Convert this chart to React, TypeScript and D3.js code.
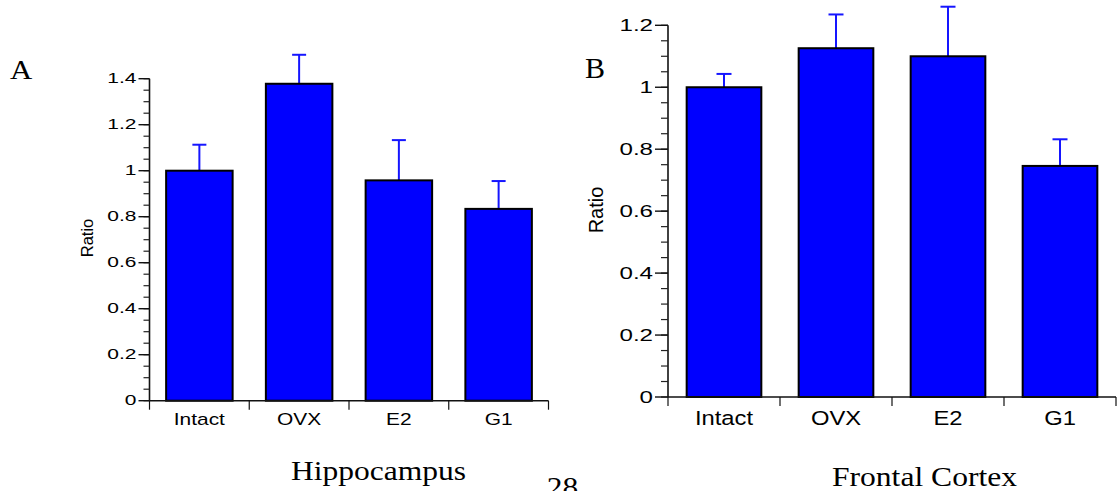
import React from "react";
import * as d3 from "d3";

const categories = ["Intact", "OVX", "E2", "G1"];
const hippoValues = [1.0, 1.378, 0.958, 0.834];
const hippoErrors = [0.113, 0.126, 0.175, 0.121];
const cortexValues = [1.0, 1.126, 1.1, 0.746];
const cortexErrors = [0.043, 0.109, 0.16, 0.086];
const hippoTicks = [0, 0.2, 0.4, 0.6, 0.8, 1, 1.2, 1.4];
const cortexTicks = [0, 0.2, 0.4, 0.6, 0.8, 1, 1.2];

type PanelProps = {
  values: number[];
  errors: number[];
  ticks: number[];
  yMax: number;
  x0: number;
  x1: number;
  y0: number;
  yTop: number;
  majorLen: number;
  minorLen: number;
  tickFont: number;
  tickSx: number;
  tickDy: number;
  labelFont: number;
  labelSx: number;
  labelY: number;
  ratioX: number;
  ratioY: number;
  ratioFont: number;
  capW: number;
};

const SANS = "'Liberation Sans', Arial, Helvetica, sans-serif";
const SERIF = "'Liberation Serif', 'Times New Roman', serif";

function Panel(p: PanelProps) {
  const y = d3.scaleLinear().domain([0, p.yMax]).range([p.y0, p.yTop]);
  const x = d3
    .scaleBand<string>()
    .domain(categories)
    .range([p.x0, p.x1])
    .paddingInner(1 / 3)
    .paddingOuter(1 / 6);
  const step = x.step();
  const minor = d3.range(0, Math.round(p.yMax / 0.05) + 1).map((i) => i * 0.05);
  const fmt = (v: number) => (v === 0 ? "0" : v === 1 ? "1" : d3.format(".1f")(v));
  return (
    <g>
      {categories.map((c, i) => {
        const bx = x(c)!;
        const top = y(p.values[i]);
        const et = y(p.values[i] + p.errors[i]);
        const cx = bx + x.bandwidth() / 2;
        return (
          <g key={c}>
            <line x1={cx} x2={cx} y1={top} y2={et} stroke="#1515ff" strokeWidth={2} />
            <line x1={cx - p.capW / 2} x2={cx + p.capW / 2} y1={et} y2={et} stroke="#1515ff" strokeWidth={2} />
            <rect
              x={bx}
              y={top}
              width={x.bandwidth()}
              height={p.y0 - top}
              fill="#0000ff"
              stroke="#000"
              strokeWidth={2}
            />
          </g>
        );
      })}
      <line x1={p.x0} x2={p.x0} y1={y(0)} y2={y(p.yMax)} stroke="#111" strokeWidth={1.6} />
      {minor.map((v, i) => (
        <line
          key={"m" + i}
          x1={p.x0 - p.minorLen}
          x2={p.x0}
          y1={y(v)}
          y2={y(v)}
          stroke="#222"
          strokeWidth={1.2}
        />
      ))}
      {p.ticks.map((v) => (
        <g key={"t" + v}>
          <line x1={p.x0 - p.majorLen} x2={p.x0} y1={y(v)} y2={y(v)} stroke="#111" strokeWidth={1.4} />
          <text
            transform={`translate(${p.x0 - p.majorLen - 2},${y(v) + p.tickDy}) scale(${p.tickSx},1)`}
            textAnchor="end"
            fontFamily={SANS}
            fontSize={p.tickFont}
            fill="#000"
          >
            {fmt(v)}
          </text>
        </g>
      ))}
      <line x1={p.x0} x2={p.x1} y1={p.y0} y2={p.y0} stroke="#111" strokeWidth={1.6} />
      {d3.range(0, categories.length + 1).map((i) => (
        <line
          key={"xt" + i}
          x1={p.x0 + i * step}
          x2={p.x0 + i * step}
          y1={p.y0}
          y2={p.y0 + 9}
          stroke="#111"
          strokeWidth={1.2}
        />
      ))}
      {categories.map((c) => (
        <text
          key={"l" + c}
          transform={`translate(${x(c)! + x.bandwidth() / 2},${p.labelY}) scale(${p.labelSx},1)`}
          textAnchor="middle"
          fontFamily={SANS}
          fontSize={p.labelFont}
          fill="#000"
        >
          {c}
        </text>
      ))}
      <text
        transform={`translate(${p.ratioX},${p.ratioY}) rotate(-90)`}
        textAnchor="middle"
        fontFamily={SANS}
        fontSize={p.ratioFont}
        fill="#000"
      >
        Ratio
      </text>
    </g>
  );
}

export default function App() {
  return (
    <svg
      width={1119}
      height={491}
      style={{ position: "absolute", left: 0, top: 0, background: "#fff" }}
    >
      <rect x={0} y={0} width={1119} height={491} fill="#fff" />
      <Panel
        values={hippoValues}
        errors={hippoErrors}
        ticks={hippoTicks}
        yMax={1.4}
        x0={149.5}
        x1={548.5}
        y0={400.7}
        yTop={78.7}
        majorLen={11}
        minorLen={6}
        tickFont={15}
        tickSx={1.4}
        tickDy={4.5}
        labelFont={17}
        labelSx={1.23}
        labelY={425}
        ratioX={93}
        ratioY={238}
        ratioFont={16.5}
        capW={14}
      />
      <Panel
        values={cortexValues}
        errors={cortexErrors}
        ticks={cortexTicks}
        yMax={1.2}
        x0={668}
        x1={1116}
        y0={397}
        yTop={25.3}
        majorLen={13}
        minorLen={7}
        tickFont={17}
        tickSx={1.42}
        tickDy={5.5}
        labelFont={19.5}
        labelSx={1.22}
        labelY={425}
        ratioX={603}
        ratioY={210}
        ratioFont={20}
        capW={15}
      />
      <text
        transform="translate(10,79.3) scale(1.1,1)"
        fontFamily={SERIF}
        fontSize={28}
        fill="#000"
      >
        A
      </text>
      <text
        transform="translate(585,77.7) scale(1.0,1)"
        fontFamily={SERIF}
        fontSize={30}
        fill="#000"
      >
        B
      </text>
      <text
        transform="translate(378.5,480) scale(1.18,1)"
        textAnchor="middle"
        fontFamily={SERIF}
        fontSize={26.7}
        fill="#000"
      >
        Hippocampus
      </text>
      <text
        transform="translate(562.5,496) scale(1.18,1)"
        textAnchor="middle"
        fontFamily={SERIF}
        fontSize={26.7}
        fill="#000"
      >
        28
      </text>
      <text
        transform="translate(924.5,485.7) scale(1.17,1)"
        textAnchor="middle"
        fontFamily={SERIF}
        fontSize={27}
        fill="#000"
      >
        Frontal Cortex
      </text>
    </svg>
  );
}
